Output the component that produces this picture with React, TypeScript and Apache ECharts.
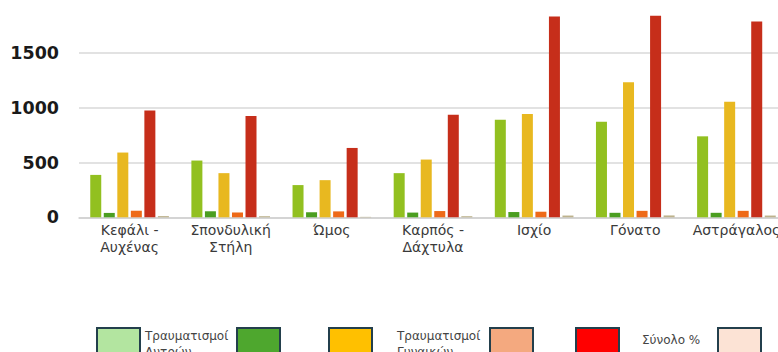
import React, { useEffect, useRef } from "react";
import * as echarts from "echarts";

const categories = [
  "Κεφάλι -\nΑυχένας",
  "Σπονδυλική\nΣτήλη",
  "Ώμος",
  "Καρπός -\nΔάχτυλα",
  "Ισχίο",
  "Γόνατο",
  "Αστράγαλος",
];
const menInjuries = [387, 518, 294, 403, 891, 873, 739];
const menPercent = [40, 55, 46, 43, 48, 41, 41];
const womenInjuries = [591, 403, 339, 527, 942, 1233, 1055];
const womenPercent = [60, 44, 54, 57, 51, 59, 59];
const totalInjuries = [975, 924, 633, 936, 1833, 2106, 1787];
const totalPercent = [11, 10, 4, 10, 16, 17, 16];
const yTicks = { min: 0, max: 1840, interval: 500 };

const seriesNames = [
  "Τραυματισμοί Αντρών",
  "Ποσοστό Αντρών %",
  "Τραυματισμοί Γυναικών",
  "Ποσοστό Γυναικών %",
  "Σύνολο",
  "Σύνολο %",
];
const barColors = ["#92c020", "#4b9e20", "#e8b820", "#ee6a18", "#c62e1a", "#bdb28c"];
const legendColors = ["#b3e5a0", "#4ea72e", "#ffc000", "#f4a97f", "#ff0000", "#fce3d5"];
const legendBoxX = [96, 236, 328, 489, 575, 717];
const legendTexts: { x: number; y: number; text: string }[] = [
  { x: 145, y: 328, text: "Τραυματισμοί\nΑντρών" },
  { x: 397, y: 328, text: "Τραυματισμοί\nΓυναικών" },
  { x: 642, y: 332, text: "Σύνολο %" },
];

export default function App() {
  const ref = useRef<HTMLDivElement>(null);
  useEffect(() => {
    if (!ref.current) return;
    const chart = echarts.init(ref.current, null, { renderer: "svg" });
    const data = [menInjuries, menPercent, womenInjuries, womenPercent, totalInjuries, totalPercent];
    const graphics: any[] = [];
    legendBoxX.forEach((x, i) => {
      graphics.push({
        type: "rect",
        left: x,
        top: 327,
        shape: { width: 43, height: 32 },
        style: { fill: legendColors[i], stroke: "#233f4c", lineWidth: 2 },
      });
    });
    legendTexts.forEach((t) => {
      graphics.push({
        type: "text",
        left: t.x,
        top: t.y,
        style: {
          text: t.text,
          fill: "#444",
          font: "12px 'DejaVu Sans'",
          lineHeight: 16,
        },
      });
    });
    chart.setOption({
      animation: false,
      grid: {
        left: 79,
        width: 708,
        top: 15.7,
        bottom: 134.7,
        containLabel: false,
        outerBoundsMode: "none",
      },
      xAxis: {
        type: "category",
        data: categories,
        axisLine: { lineStyle: { color: "#cfcfcf", width: 1.5 } },
        axisTick: { show: false },
        axisLabel: {
          interval: 0,
          fontSize: 14,
          lineHeight: 17,
          color: "#3a3a3a",
          fontFamily: "DejaVu Sans",
          margin: 4,
        },
      },
      yAxis: {
        type: "value",
        min: yTicks.min,
        max: yTicks.max,
        interval: yTicks.interval,
        axisLine: { show: false },
        axisTick: { show: false },
        axisLabel: {
          fontSize: 17.5,
          fontWeight: "bold",
          color: "#1a1a1a",
          fontFamily: "DejaVu Sans",
          margin: 20,
          showMaxLabel: false,
          formatter: (v: number) => String(v),
        },
        splitLine: {
          showMaxLine: false,
          lineStyle: { color: "#d9d9d9", width: 1.5 },
        },
      },
      series: data.map((d, i) => ({
        name: seriesNames[i],
        type: "bar",
        data: d,
        barWidth: 11,
        barGap: "23%",
        clip: true,
        itemStyle: { color: barColors[i] },
      })),
      graphic: graphics,
    });
    return () => chart.dispose();
  }, []);
  return <div ref={ref} style={{ width: 778, height: 352, position: "absolute", left: 0, top: 0 }} />;
}
